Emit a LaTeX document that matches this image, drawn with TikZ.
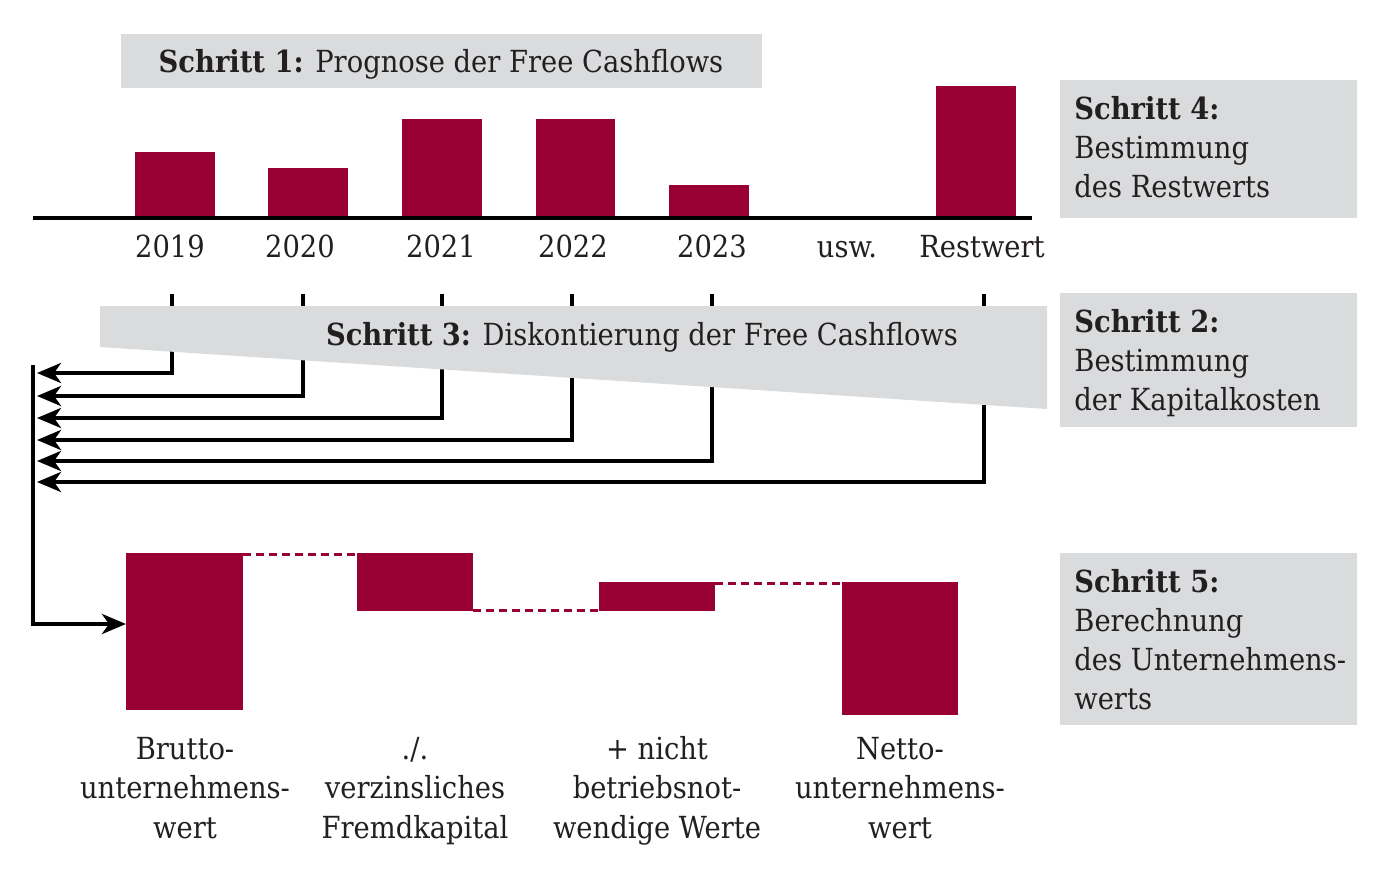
\documentclass[tikz,border=0pt]{standalone}
\usepackage{fontspec}
\setmainfont{DejaVu Serif Condensed}
\usetikzlibrary{arrows.meta}
\definecolor{barred}{RGB}{153,0,51}
\definecolor{boxgray}{RGB}{218,219,221}
\definecolor{ink}{RGB}{35,31,32}
\tikzset{
  lbl/.style={text=ink, inner sep=0pt, font=\fontsize{15.2}{19.75}\selectfont},
  flow/.style={line width=2.1pt, -{Stealth[length=12pt,width=10pt,inset=3.5pt]}},
  link/.style={barred, line width=1.5pt, dash pattern=on 4.2pt off 2.3pt},
}

\begin{document}
\begin{tikzpicture}[x=0.5pt, y=-0.5pt]
			%%%%% START %%%%%
			\useasboundingbox (0,0) rectangle (1398,878);
			
			% Schritt 1
			\fill[boxgray] (121,34) rectangle (762,88);
			\node[lbl, anchor=base] (step1) at (441,72) {\textbf{Schritt 1:} Prognose der Free Cashflows};
			
			% Free Cashflows
			\fill[barred] (135,152) rectangle (215,218);
			\fill[barred] (268,168) rectangle (348,218);
			\fill[barred] (402,119) rectangle (482,218);
			\fill[barred] (536,119) rectangle (615,218);
			\fill[barred] (669,185) rectangle (749,218);
			\fill[barred] (936,86) rectangle (1016,218);
			\draw[line width=1.6pt] (33,218) -- (1032,218);
			
			\node[lbl, anchor=base] (y2019) at (170,257) {2019};
			\node[lbl, anchor=base] (y2020) at (300,257) {2020};
			\node[lbl, anchor=base] (y2021) at (441,257) {2021};
			\node[lbl, anchor=base] (y2022) at (573,257) {2022};
			\node[lbl, anchor=base] (y2023) at (712,257) {2023};
			\node[lbl, anchor=base] (usw) at (847,257) {usw.};
			\node[lbl, anchor=base] (rest) at (982,257) {Restwert};
			
			% Schritt 4
			\fill[boxgray] (1060,80) rectangle (1357,218);
			\node[lbl, anchor=base west] (step4) at (1074,119) {\textbf{Schritt 4:}};
			\node[lbl, anchor=base west] at (1074,158) {Bestimmung};
			\node[lbl, anchor=base west] at (1074,197) {des Restwerts};
			
			% Diskontierung
			\coordinate (t2019) at (172,294);
			\coordinate (t2020) at (303,294);
			\coordinate (t2021) at (442,294);
			\coordinate (t2022) at (572,294);
			\coordinate (t2023) at (712,294);
			\coordinate (trest) at (984,294);
			\draw[flow] (t2019) |- (37,373);
			\draw[flow] (t2020) |- (37,396);
			\draw[flow] (t2021) |- (37,418);
			\draw[flow] (t2022) |- (37,440);
			\draw[flow] (t2023) |- (37,461);
			\draw[flow] (trest) |- (37,482);
			
			\fill[boxgray] (100,306) -- (1047,306) -- (1047,409) -- (100,347) -- cycle;
			\node[lbl, anchor=base] (step3) at (642,345) {\textbf{Schritt 3:} Diskontierung der Free Cashflows};
			
			% Schritt 2
			\fill[boxgray] (1060,293) rectangle (1357,427);
			\node[lbl, anchor=base west] (step2) at (1074,332) {\textbf{Schritt 2:}};
			\node[lbl, anchor=base west] at (1074,371) {Bestimmung};
			\node[lbl, anchor=base west] at (1074,410) {der Kapitalkosten};
			
			% Unternehmenswert
			\fill[barred] (126,553) rectangle (243,710);
			\fill[barred] (357,553) rectangle (473,611);
			\fill[barred] (599,582) rectangle (715,611);
			\fill[barred] (842,582) rectangle (958,715);
			\coordinate (brutto) at (126,624);
			\draw[line width=2.1pt] (33,365) -- (33,624) -- (60,624);
			\draw[flow] (33,624) -- (brutto);
			\draw[link] (243,554) -- (357,554);
			\draw[link] (473,610) -- (599,610);
			\draw[link] (715,583) -- (842,583);
			
			\node[lbl, anchor=base, align=center] (lbrutto) at (185,838) {Brutto-\\unternehmens-\\wert};
			\node[lbl, anchor=base, align=center] (lfremd) at (415,838) {./.\\verzinsliches\\Fremdkapital};
			\node[lbl, anchor=base, align=center] (lnicht) at (657,838) {+ nicht\\betriebsnot-\\wendige Werte};
			\node[lbl, anchor=base, align=center] (lnetto) at (900,838) {Netto-\\unternehmens-\\wert};
			
			% Schritt 5
			\fill[boxgray] (1060,553) rectangle (1357,725);
			\node[lbl, anchor=base west] (step5) at (1074,592) {\textbf{Schritt 5:}};
			\node[lbl, anchor=base west] at (1074,631) {Berechnung};
			\node[lbl, anchor=base west] at (1074,670) {des Unternehmens-};
			\node[lbl, anchor=base west] at (1074,709) {werts};
			
			%%%%% END %%%%%
\end{tikzpicture}
\end{document}
